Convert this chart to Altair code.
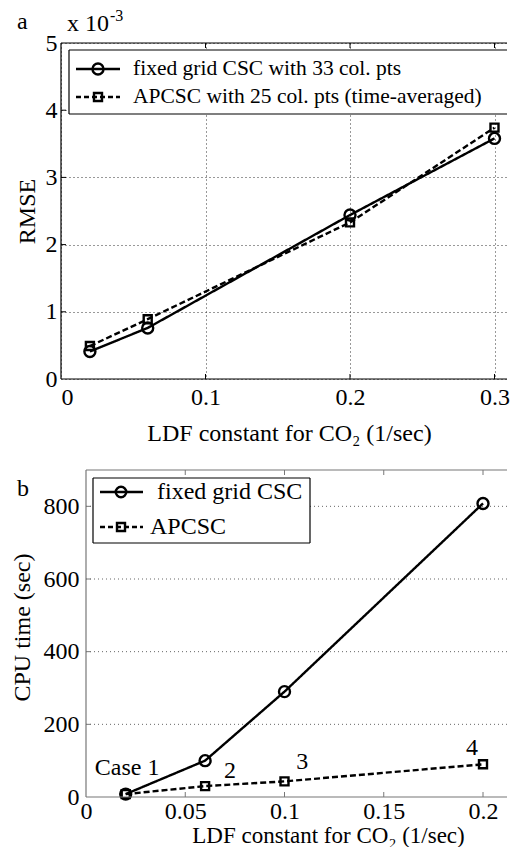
import altair as alt
import pandas as pd

FONT = "Liberation Serif"

# ---------------- data ----------------
series_names = ["fixed grid CSC", "APCSC"]

# panel a : RMSE (x 10^-3)
ldf_a = [0.02, 0.06, 0.2, 0.3]
rmse_fixed = [0.41, 0.76, 2.44, 3.58]
rmse_apcsc = [0.49, 0.89, 2.33, 3.74]
legend_a = ["fixed grid CSC with 33 col. pts",
            "APCSC with 25 col. pts (time-averaged)"]

# panel b : CPU time (sec)
ldf_b = [0.02, 0.06, 0.1, 0.2]
cpu_fixed = [8, 100, 290, 808]
cpu_apcsc = [8, 30, 43, 90]
legend_b = ["fixed grid CSC", "APCSC"]

case_labels = ["Case 1", "2", "3", "4"]
case_x = [0.0207, 0.0726, 0.109, 0.1945]
case_y = [81, 71, 95, 136]

xticks_a = [0, 0.1, 0.2, 0.3]
yticks_a = [0, 1, 2, 3, 4, 5]
xticks_b = [0, 0.05, 0.1, 0.15, 0.2]
yticks_b = [0, 200, 400, 600, 800]

x_title = "LDF constant for CO\u2082 (1/sec)"
x_title_b = "LDF constant for CO\u2082  (1/sec)"

df_a = pd.DataFrame({
    "x": ldf_a + ldf_a,
    "y": rmse_fixed + rmse_apcsc,
    "s": [series_names[0]] * len(ldf_a) + [series_names[1]] * len(ldf_a),
})
df_b = pd.DataFrame({
    "x": ldf_b + ldf_b,
    "y": cpu_fixed + cpu_apcsc,
    "s": [series_names[0]] * len(ldf_b) + [series_names[1]] * len(ldf_b),
})
df_case = pd.DataFrame({"x": case_x, "y": case_y, "t": case_labels})
df_gridb = pd.DataFrame({"y": yticks_b[1:]})
df_xta = pd.DataFrame({"x": xticks_a[1:]})
df_yta = pd.DataFrame({"y": yticks_a[1:-1]})
df_xtb = pd.DataFrame({"x": xticks_b[1:]})
df_ytb = pd.DataFrame({"y": yticks_b[1:]})

dash_scale = alt.Scale(domain=series_names, range=[[1, 0], [6, 3]])
shape_scale = alt.Scale(domain=series_names, range=["circle", "square"])


def one(t):
    return pd.DataFrame({"t": [t]})


def series_layers(df, x, y, circ, sq, sw):
    base = alt.Chart(df)
    lines = base.mark_line(color="black", strokeWidth=sw).encode(
        x=x, y=y,
        strokeDash=alt.StrokeDash("s:N", scale=dash_scale, legend=None),
        detail="s:N",
    )
    pts = base.mark_point(color="black", filled=False, strokeWidth=sw, opacity=1).encode(
        x=x, y=y,
        shape=alt.Shape("s:N", scale=shape_scale, legend=None),
        size=alt.Size("s:N", scale=alt.Scale(domain=series_names, range=[circ, sq]), legend=None),
    )
    return [lines, pts]


def hrule(x0, x1, y, color="black", w=1.2):
    return alt.Chart(one("r")).mark_rule(color=color, strokeWidth=w).encode(
        x=alt.value(x0), x2=alt.value(x1), y=alt.value(y))


def vrule(x, y0, y1, color="black", w=1.2):
    return alt.Chart(one("r")).mark_rule(color=color, strokeWidth=w).encode(
        x=alt.value(x), y=alt.value(y0), y2=alt.value(y1))


def legend_layers(x0, x1, y0, y1, lx0, lx1, mx, rows_y, texts, text_x, fsize,
                  circ, sq, right_border):
    out = [alt.Chart(one("box")).mark_rect(fill="white", strokeWidth=0).encode(
        x=alt.value(x0), x2=alt.value(x1), y=alt.value(y0), y2=alt.value(y1)),
        hrule(x0, x1, y0), hrule(x0, x1, y1), vrule(x0, y0, y1)]
    if right_border:
        out.append(vrule(x1, y0, y1))
    dashes = [[1, 0], [5, 3]]
    shapes = ["circle", "square"]
    sizes = [circ, sq]
    for i in range(2):
        out.append(alt.Chart(one(texts[i])).mark_rule(
            color="black", strokeWidth=2.4, strokeDash=dashes[i]).encode(
            x=alt.value(lx0), x2=alt.value(lx1), y=alt.value(rows_y[i])))
        out.append(alt.Chart(one(texts[i])).mark_point(
            shape=shapes[i], filled=False, color="black", strokeWidth=2.4,
            size=sizes[i], opacity=1).encode(x=alt.value(mx), y=alt.value(rows_y[i])))
        out.append(alt.Chart(one(texts[i])).mark_text(
            font=FONT, fontSize=fsize, align="left", baseline="middle", color="black").encode(
            text="t:N", x=alt.value(text_x[i]), y=alt.value(rows_y[i])))
    return out


def label(t, x, y, size=24):
    return alt.Chart(one(t)).mark_text(font=FONT, fontSize=size, align="left",
                                       baseline="alphabetic", color="black").encode(
        text="t:N", x=alt.value(x), y=alt.value(y))


TICK = 5

# ---------------- panel a ----------------
WA, HA = 446, 336
xa = alt.X("x:Q", scale=alt.Scale(domain=[0, WA / 1445.0], nice=False, zero=False),
           axis=alt.Axis(values=xticks_a, format="~g", title=x_title,
                         labelPadding=6, titleX=228, titleY=54, titleAlign="center",
                         titleBaseline="middle", gridColor="#333"))
ya = alt.Y("y:Q", scale=alt.Scale(domain=[0, 5], nice=False),
           axis=alt.Axis(values=yticks_a, format="d", title="RMSE",
                         labelPadding=4, titleX=-34, titleY=HA / 2, titleAngle=270,
                         titleAlign="center", titleBaseline="middle", gridColor="#333"))
frame_a = [vrule(0, 0, HA), hrule(0, WA, 0), hrule(0, WA, HA)]
ticks_a = [
    alt.Chart(df_xta).mark_rule(color="black", strokeWidth=1).encode(
        x=alt.X("x:Q"), y=alt.value(HA), y2=alt.value(HA - TICK)),
    alt.Chart(df_xta).mark_rule(color="black", strokeWidth=1).encode(
        x=alt.X("x:Q"), y=alt.value(0), y2=alt.value(TICK)),
    alt.Chart(df_yta).mark_rule(color="black", strokeWidth=1).encode(
        y=alt.Y("y:Q"), x=alt.value(0), x2=alt.value(TICK)),
]
leg_a = legend_layers(8, WA, 7, 71, 15, 59, 37, [26, 54], legend_a, [72, 72], 21.5,
                      121, 64, False)
chart_a = alt.layer(
    *series_layers(df_a, xa, ya, 121, 64, 2.4), *frame_a, *ticks_a, *leg_a,
    label("a", -44, -14), label("x 10", 6, -12), label("-3", 49, -22, 16),
).properties(width=WA, height=HA)

# ---------------- panel b ----------------
WB, HB = 446, 327
PXB = 1985.0
OFFB = 25
xb = alt.X("x:Q", scale=alt.Scale(domain=[-OFFB / PXB, (WB - OFFB) / PXB], nice=False, zero=False),
           axis=alt.Axis(values=xticks_b, format="~g", title=x_title_b,
                         labelPadding=2, titleX=267, titleY=38, titleAlign="center",
                         titleBaseline="middle", titleFontSize=23, gridColor="#666"))
yb = alt.Y("y:Q", scale=alt.Scale(domain=[0, 900], nice=False),
           axis=alt.Axis(values=yticks_b, format="d", title="CPU time (sec)",
                         offset=-OFFB, grid=False, labelPadding=7,
                         titleX=-64, titleY=157, titleAngle=270,
                         titleAlign="center", titleBaseline="middle"))
gridb = alt.Chart(df_gridb).mark_rule(color="#666", strokeWidth=1, strokeDash=[1, 3]).encode(
    x=alt.datum(0), x2=alt.value(WB), y=alt.Y("y:Q"))
FB = "#777"
frame_b = [
    alt.Chart(one("f")).mark_rule(color=FB, strokeWidth=1.2).encode(
        x=alt.datum(0), y=alt.value(0), y2=alt.value(HB)),
    alt.Chart(one("f")).mark_rule(color=FB, strokeWidth=1.2).encode(
        x=alt.datum(0), x2=alt.value(WB), y=alt.value(0)),
    alt.Chart(one("f")).mark_rule(color=FB, strokeWidth=1.2).encode(
        x=alt.datum(0), x2=alt.value(WB), y=alt.value(HB)),
]
ticks_b = [
    alt.Chart(df_xtb).mark_rule(color=FB, strokeWidth=1).encode(
        x=alt.X("x:Q"), y=alt.value(HB), y2=alt.value(HB - TICK)),
    alt.Chart(df_xtb).mark_rule(color=FB, strokeWidth=1).encode(
        x=alt.X("x:Q"), y=alt.value(0), y2=alt.value(TICK)),
    alt.Chart(df_ytb).mark_rule(color=FB, strokeWidth=1).encode(
        y=alt.Y("y:Q"), x=alt.datum(0), x2=alt.value(OFFB + TICK)),
]
cases = alt.Chart(df_case).mark_text(font=FONT, fontSize=24, align="center",
                                     baseline="middle", color="black").encode(
    x=alt.X("x:Q"), y=alt.Y("y:Q"), text="t:N")
leg_b = legend_layers(32, 249, 8, 73, 39, 82, 60, [22, 57], legend_b, [96, 89], 24,
                      110, 64, True)
chart_b = alt.layer(
    gridb, *series_layers(df_b, xb, yb, 110, 64, 2.4), *frame_b, *ticks_b, cases, *leg_b,
    label("b", -44, 26),
).properties(width=WB, height=HB)

chart = alt.vconcat(chart_a, chart_b, spacing=24).properties(
    padding={"left": 2, "top": 0, "right": 0, "bottom": 0}
).configure_axis(
    labelFont=FONT, titleFont=FONT, labelFontSize=24, titleFontSize=24,
    titleFontWeight="normal", labelColor="black", titleColor="black",
    domain=False, ticks=False, gridDash=[1, 3], gridWidth=1, gridOpacity=1,
).configure_view(stroke=None)

chart.save("out.html", embed_options={"renderer": "svg", "actions": False})
